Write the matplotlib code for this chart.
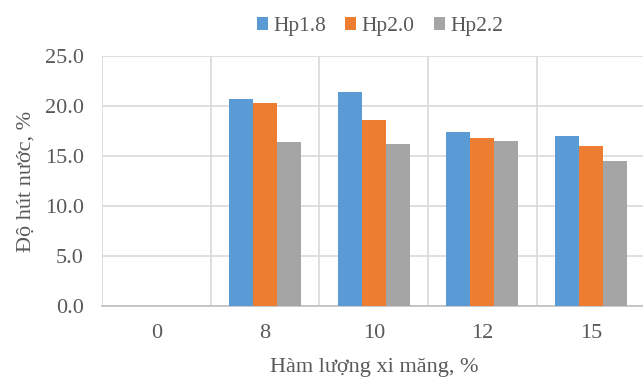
import matplotlib
matplotlib.use('Agg')
import matplotlib.pyplot as plt
import numpy as np

# cement content categories and water absorption per series
categories = ['0', '8', '10', '12', '15']
hp18 = [0.0, 20.7, 21.45, 17.4, 17.0]
hp20 = [0.0, 20.3, 18.6, 16.8, 16.0]
hp22 = [0.0, 16.45, 16.2, 16.5, 14.55]
series_names = ['Hp1.8', 'Hp2.0', 'Hp2.2']
colors = ['#5B9BD5', '#ED7D31', '#A5A5A5']

plt.rcParams['font.family'] = ['Liberation Serif', 'DejaVu Serif']
text_col = '#595959'
grid_col = '#D9D9D9'
fs = 16

fig = plt.figure(figsize=(6.43, 3.84), dpi=100)
ax = fig.add_axes([102 / 643, 78 / 384, 543.5 / 643, 250 / 384])

x = np.arange(len(categories))
w = 0.221
for i, (vals, name) in enumerate(zip([hp18, hp20, hp22], series_names)):
    ax.bar(x + (i - 1) * w, vals, width=w, color=colors[i], label=name,
           edgecolor='none', zorder=3)

ax.set_xlim(-0.5, len(categories) - 0.5)
ax.set_ylim(0, 25)
ax.set_yticks(np.arange(0, 25.1, 5))
ax.set_yticklabels(['%.1f' % v for v in np.arange(0, 25.1, 5)])
ax.set_xticks(x)
ax.set_xticklabels(categories)
ax.set_xticks(np.arange(-0.5, len(categories)), minor=True)

ax.grid(True, axis='y', which='major', color=grid_col, lw=1.2, zorder=0)
ax.grid(True, axis='x', which='minor', color=grid_col, lw=1.2, zorder=0)
ax.tick_params(axis='both', which='both', length=0, labelsize=fs,
               labelcolor=text_col)
ax.tick_params(axis='y', pad=13)
ax.tick_params(axis='x', pad=13)

for s in ['top', 'right', 'left']:
    ax.spines[s].set_visible(False)
ax.spines['bottom'].set_color('#BFBFBF')
ax.spines['bottom'].set_linewidth(1.2)

ax.set_xlabel('Hàm lượng xi măng, %', fontsize=fs, color=text_col, labelpad=11)
ax.set_ylabel('Độ hút nước, %', fontsize=fs, color=text_col, labelpad=7)

fig.legend(loc='center', bbox_to_anchor=(380 / 643, 1 - 26.6 / 384), ncol=3,
           frameon=False, fontsize=15.5, handlelength=0.5, handleheight=0.5,
           handletextpad=0.25, columnspacing=0.9, labelcolor=text_col)

fig.savefig('out.png', dpi=100)
